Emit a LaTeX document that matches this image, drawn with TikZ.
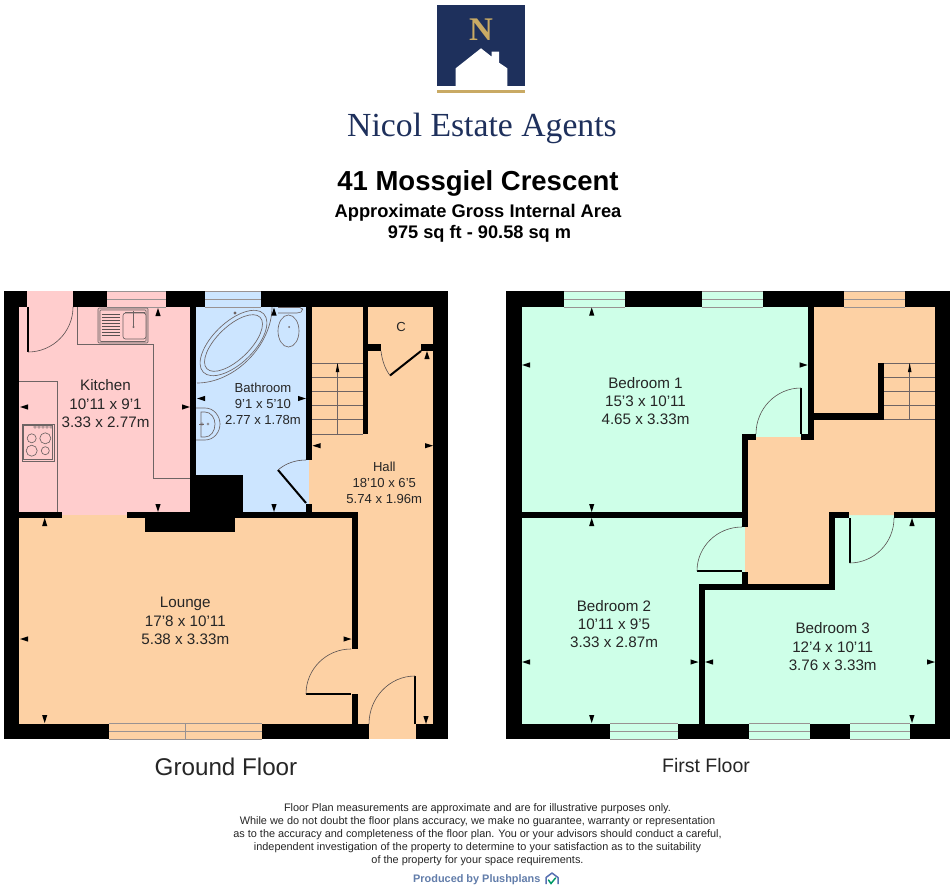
\documentclass[tikz,border=0pt]{standalone}
\usepackage{fontspec}
\setmainfont{Liberation Sans}
\newfontfamily\logofont{Liberation Serif}
\definecolor{pinkroom}{RGB}{255,205,205}
\definecolor{blueroom}{RGB}{204,229,255}
\definecolor{orangeroom}{RGB}{253,209,164}
\definecolor{greenroom}{RGB}{206,255,232}
\definecolor{navy}{RGB}{30,48,92}
\definecolor{gold}{RGB}{201,170,100}
\definecolor{fixline}{RGB}{110,100,100}
\definecolor{plush}{RGB}{98,125,170}
\tikzset{
  wall/.style={fill=black},
  fixture/.style={draw=fixline,line width=0.65pt},
  swing/.style={draw=fixline!80!black,line width=0.6pt},
  leaf/.style={draw=black,line width=2pt},
  tread/.style={draw=fixline,line width=0.6pt},
  pane/.style={draw=fixline!70,line width=0.6pt},
  big/.style={font=\fontsize{15.2}{18.3}\selectfont,align=center,text=black!85,inner sep=0pt},
  small/.style={font=\fontsize{13.1}{15.8}\selectfont,align=center,text=black!85,inner sep=0pt},
  foot/.style={font=\fontsize{10.9}{13}\selectfont,align=center,text=black!85,inner sep=0pt},
}
\newcommand\wl[4]{\fill[wall] (#1,#2) rectangle (#3,#4);}
\newcommand\mU[2]{\fill[black] (#1,#2)--({#1-2.6},{#2+8})--({#1+2.6},{#2+8})--cycle;}
\newcommand\mD[2]{\fill[black] (#1,#2)--({#1-2.6},{#2-8})--({#1+2.6},{#2-8})--cycle;}
\newcommand\mL[2]{\fill[black] (#1,#2)--({#1+8},{#2-2.6})--({#1+8},{#2+2.6})--cycle;}
\newcommand\mR[2]{\fill[black] (#1,#2)--({#1-8},{#2-2.6})--({#1-8},{#2+2.6})--cycle;}
\newcommand\qarc[6]{\draw[swing] (#3,#4) .. controls ({#3+.5523*(#5-#1)},{#4+.5523*(#6-#2)}) and ({#5+.5523*(#3-#1)},{#6+.5523*(#4-#2)}) .. (#5,#6);}
% window: x1 x2 ytop colour
\newcommand\win[4]{\fill[#4] (#1,#3) rectangle (#2,{#3+16});
  \draw[pane] (#1,#3) -- (#2,#3) (#1,{#3+8}) -- (#2,{#3+8}) (#1,{#3+16}) -- (#2,{#3+16});}
\begin{document}
\begin{tikzpicture}[x=1pt,y=-1pt]
\useasboundingbox (0,0) rectangle (952,888);
\fill[white] (0,0) rectangle (952,888);

% ---------- logo
\fill[navy] (437,5) rectangle (525,86);
\fill[gold] (437,90) rectangle (525,93.5);
\fill[white] (455.7,86) -- (455.7,68.3) -- (481,48.3) -- (491.7,56.7) -- (491.7,51.7) -- (499,51.7) -- (499,62.7) -- (507.3,68.3) -- (507.3,86) -- cycle;
\node[inner sep=0pt,text=gold,font=\logofont\bfseries\fontsize{33}{33}\selectfont] (logoN) at (481,29.5) {N};
\node[inner sep=0pt,text=navy,font=\logofont\fontsize{33.7}{33.7}\selectfont,anchor=base] (logotext) at (482,136.5) {Nicol Estate Agents};

% ---------- titles
\node[inner sep=0pt,font=\bfseries\fontsize{27.5}{27.5}\selectfont] (title) at (478,183) {41 Mossgiel Crescent};
\node[inner sep=0pt,font=\bfseries\fontsize{18.3}{18.3}\selectfont] (sub1) at (478,213) {Approximate Gross Internal Area};
\node[inner sep=0pt,font=\bfseries\fontsize{18.2}{18.2}\selectfont] (sub2) at (479.5,234) {975 sq ft - 90.58 sq m};

% ---------- ground floor fills
\fill[orangeroom] (19,307) rectangle (433,724);
\fill[orangeroom] (369,724) rectangle (416,739);
\fill[pinkroom] (19,307) rectangle (190,515);
\fill[pinkroom] (27,291) rectangle (73,307);
\fill[blueroom] (190,307) rectangle (309,515);
\win{107}{166}{291}{pinkroom}
\win{205}{261}{291}{blueroom}
\win{109}{262}{723}{orangeroom}
\draw[pane] (185.5,723) -- (185.5,739);

% ground floor fixtures
\draw[fixture] (77,307) -- (77,344.5) -- (153,344.5) -- (153,478) -- (190,478);
\draw[fixture] (19,381) -- (57,381) -- (57,512);
\draw[fixture,fill=pinkroom!80!gray,rounded corners=1pt] (98,308) rectangle (148,343);
\draw[fixture,fill=pinkroom,rounded corners=1pt] (100,310) rectangle (146,341.5);
\draw[fixture,rounded corners=2.5pt,fill=pinkroom] (123,313) rectangle (146,339);
\foreach \y in {314,317,320,323,326,329,332,335} {\draw[draw=fixline!80!black,line width=1pt] (101.5,\y) -- (120,\y);}
\draw[fixture] (125,312) -- (145,312) (133.5,311) -- (133.5,328);
\fill[fixline] (133.5,327) circle (1.2pt);
\draw[fixture] (22,424) rectangle (54,461);
\draw[fixture] (23.5,425.5) rectangle (52.5,459.5);
\foreach \x in {35,39,43,47,51} {\draw[fixture,line width=0.4pt] (\x,427) circle (1.4pt);}
\draw[fixture] (31.7,438.3) circle (4.5pt) (45.3,438.3) circle (5.5pt) (31.7,450.7) circle (5.5pt) (45.3,450.7) circle (4pt);

% bath
\draw[fixture] (197,383) .. controls (235,383) and (272,345) .. (272,307);
\draw[fixture,rotate around={44:(233.5,343)}] (233.5,343) ellipse [x radius=42pt,y radius=20.5pt];
\draw[fixture,rotate around={44:(233.5,343)}] (233.5,343) ellipse [x radius=37pt,y radius=16.5pt];
\fill[fixline] (235,313) circle (1.6pt);
% toilet
\draw[fixture] (288.5,331) ellipse [x radius=10.5pt,y radius=16pt];
\draw[fixture,rounded corners=2pt] (278,307.5) -- (302,307.5) -- (303,311) -- (299,313) -- (278,313);
\fill[fixline] (289,327) circle (1pt);
% basin
\draw[fixture] (196,408) -- (205,408) .. controls (214,408) and (220,416) .. (220,424) .. controls (220,432) and (214,440) .. (205,440) -- (196,440);
\draw[fixture] (201,412) -- (205,412) .. controls (211,412) and (215,418) .. (215,424) .. controls (215,431) and (211,437) .. (205,437) -- (201,437) -- cycle;
\draw[fixture] (199,424) -- (204,424);
\draw[fixture,line width=.4pt] (202,424) circle (1.3pt) (208,424) circle (1.1pt);

% stairs ground
\foreach \y in {363,377,391,405,419,434} {\draw[tread] (312,\y) -- (363,\y);}
\draw[tread] (337.5,434) -- (337.5,363);
\fill[black] (337.5,363) -- (335.7,372) -- (339.3,372) -- cycle;

% ground walls
\wl{4}{291}{27}{307}
\wl{73}{291}{107}{307}
\wl{166}{291}{205}{307}
\wl{261}{291}{448}{307}
\wl{4}{291}{19}{739}
\wl{433}{291}{448}{739}
\wl{4}{723.5}{109}{739}
\wl{262}{723.5}{369}{739}
\wl{416}{723.5}{448}{739}
\wl{190}{307}{196}{475}
\wl{190}{475}{243}{512}
\wl{19}{512}{62}{518}
\wl{127}{512}{357}{518}
\wl{145}{518}{235}{531.7}
\wl{351.5}{512}{358}{649}
\wl{351.5}{694}{358}{724}
\wl{306}{307}{312}{460}
\wl{306}{503.5}{312}{512}
\wl{363}{307}{368}{434}
\wl{363}{344}{381}{351}
\wl{421}{344}{433}{351}

% ground doors
\draw[leaf] (28,307) -- (28,352);
\qarc{28}{307}{28}{352}{73}{307}
\draw[leaf] (306,503) -- (278,470);
\draw[swing] (278,470) .. controls (286,463) and (296,460) .. (306,460);
\draw[leaf] (421,351) -- (390,375.5);
\draw[swing] (381,351) .. controls (382,360) and (385,369) .. (390,375.5);
\draw[leaf] (351,694) -- (306,694);
\qarc{351}{694}{306}{694}{351}{649}
\draw[leaf] (415,724) -- (415,676);
\qarc{415}{724}{415}{676}{369}{724}

% ground marks
\mU{158}{308}\mD{158}{512}\mL{20}{407}\mR{190}{407}
\mU{274}{307.5}\mD{274}{512}\mL{197}{398.5}\mR{306}{398.5}
\mL{312.5}{445.7}\mR{433}{445.7}\mU{427}{351}\mD{426}{724}
\mU{44.7}{518}\mD{44.7}{723}\mL{20}{639}\mR{351.5}{639}

% ground labels
\node[big] (kitchen) at (105.5,403.7) {Kitchen\\10'11 x 9'1\\3.33 x 2.77m};
\node[small] (bathroom) at (263,404) {Bathroom\\9'1 x 5'10\\2.77 x 1.78m};
\node[small] (hall) at (384.3,483) {Hall\\18'10 x 6'5\\5.74 x 1.96m};
\node[small] (cupboard) at (401,327) {C};
\node[big] (lounge) at (185.3,621) {Lounge\\17'8 x 10'11\\5.38 x 3.33m};
\node[inner sep=0pt,font=\fontsize{24.2}{24.2}\selectfont,text=black!85] (gf) at (226,767) {Ground Floor};

% ---------- first floor fills
\fill[greenroom] (521,307) rectangle (935,724);
\fill[orangeroom] (814,307) -- (935,307) -- (935,515) -- (829,515) -- (829,584) -- (745,584) -- (745,437) -- (814,437) -- cycle;
\win{564}{625}{291}{greenroom}
\win{702}{763}{291}{greenroom}
\win{844}{905}{291}{orangeroom}
\win{610}{678}{723}{greenroom}
\win{749}{810}{723}{greenroom}
\win{850}{910}{723}{greenroom}

% stairs first
\foreach \y in {363,377,391,405,419} {\draw[tread] (884,\y) -- (935,\y);}
\draw[tread] (909.7,419) -- (909.7,363);
\fill[black] (909.7,363) -- (907.9,372) -- (911.5,372) -- cycle;

% first walls
\wl{506}{291}{564}{307}
\wl{625}{291}{702}{307}
\wl{763}{291}{844}{307}
\wl{905}{291}{950}{307}
\wl{506}{291}{521.7}{739}
\wl{935}{291}{950}{739}
\wl{506}{723.5}{610}{739}
\wl{678}{723.5}{749}{739}
\wl{810}{723.5}{850}{739}
\wl{910}{723.5}{950}{739}
\wl{808}{307}{814}{440}
\wl{801}{434}{814}{440}
\wl{814}{413}{884}{420}
\wl{878}{363}{884}{420}
\wl{742}{434}{756}{440}
\wl{742}{434}{748}{527}
\wl{742}{572}{748}{590}
\wl{521}{512}{742}{518}
\wl{698.5}{584}{835}{590}
\wl{698.5}{584}{705}{724}
\wl{829}{512}{835}{590}
\wl{829}{512}{849}{518}
\wl{894}{512}{935}{518}

% first doors
\draw[leaf] (801,434) -- (801,388);
\qarc{801}{434}{801}{388}{756}{434}
\draw[leaf] (742,571) -- (697,571);
\qarc{742}{571}{697}{571}{742}{527}
\draw[leaf] (849.5,518) -- (849.5,563);
\qarc{849.5}{518}{849.5}{563}{894}{518}

% first marks
\mU{591.7}{307.5}\mD{591.7}{512}\mL{522}{365}\mR{807.7}{365}
\mU{591.7}{518}\mD{591.7}{723}\mL{522}{662}\mR{698.5}{662}
\mU{912}{518}\mD{912}{723}\mL{705}{662}\mR{935}{662}

% first labels
\node[big] (bed1) at (645.5,401) {Bedroom 1\\15'3 x 10'11\\4.65 x 3.33m};
\node[big] (bed2) at (614,624) {Bedroom 2\\10'11 x 9'5\\3.33 x 2.87m};
\node[big] (bed3) at (832.7,646.7) {Bedroom 3\\12'4 x 10'11\\3.76 x 3.33m};
\node[inner sep=0pt,font=\fontsize{19.5}{19.5}\selectfont,text=black!85] (ff) at (706,766) {First Floor};

% ---------- footer
\node[foot] (disc) at (477.5,835) {Floor Plan measurements are approximate and are for illustrative purposes only.\\
While we do not doubt the floor plans accuracy, we make no guarantee, warranty or representation\\
as to the accuracy and completeness of the floor plan. You or your advisors should conduct a careful,\\
independent investigation of the property to determine to your satisfaction as to the suitability\\
of the property for your space requirements.};
\node[inner sep=0pt,anchor=west,text=plush,font=\bfseries\fontsize{10.9}{10.9}\selectfont] (produced) at (413,880) {Produced by Plushplans};
\draw[draw=plush!90!blue,line width=1.5pt,line join=round] (546,884) -- (546,877.5) -- (552,873) -- (558,877.5) -- (558,884);
\draw[draw=teal!80!green,line width=1.5pt,line cap=round] (548.5,880) -- (551,883.5) -- (555.5,878);
\end{tikzpicture}
\end{document}
